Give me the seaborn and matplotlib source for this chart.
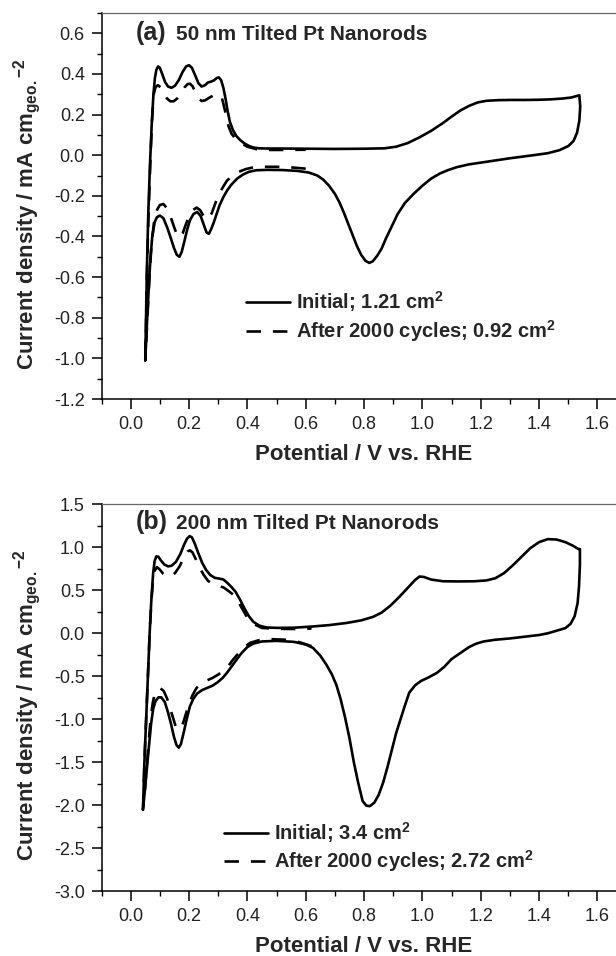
import numpy as np
import pandas as pd
import matplotlib
matplotlib.use("Agg")
import matplotlib.pyplot as plt
from matplotlib.lines import Line2D
from matplotlib.ticker import MultipleLocator, FormatStrFormatter
import seaborn as sns

# ---------------- data ----------------
# Panel (a): 50 nm tilted Pt nanorods, initial CV (closed loop)
a_init_v = [0.050, 0.055, 0.060, 0.066, 0.072, 0.078, 0.083, 0.088, 0.094, 0.100, 0.108, 0.118,
            0.128, 0.140, 0.152, 0.165, 0.178, 0.190, 0.200, 0.210, 0.222, 0.232, 0.243, 0.255,
            0.265, 0.275, 0.285, 0.295, 0.302, 0.310, 0.318, 0.325, 0.332, 0.340, 0.350, 0.362,
            0.375, 0.390, 0.405, 0.420, 0.440, 0.470, 0.520, 0.600, 0.700, 0.800, 0.870, 0.910,
            0.950, 0.990, 1.030, 1.070, 1.100, 1.130, 1.160, 1.190, 1.220, 1.260, 1.300, 1.350,
            1.400, 1.440, 1.480, 1.510, 1.530, 1.538,
            1.541, 1.538, 1.530, 1.518, 1.500, 1.470, 1.430, 1.380, 1.300, 1.230, 1.160, 1.120,
            1.090, 1.060, 1.030, 1.000, 0.970, 0.940, 0.915, 0.895, 0.875, 0.860, 0.845, 0.830,
            0.818, 0.805, 0.790, 0.775, 0.760, 0.745, 0.730, 0.715, 0.700, 0.680, 0.660, 0.640,
            0.610, 0.570, 0.520, 0.470, 0.430, 0.405, 0.385, 0.365, 0.345, 0.330, 0.318, 0.305,
            0.295, 0.285, 0.277, 0.268, 0.260, 0.250, 0.240, 0.228, 0.215, 0.203, 0.193, 0.183,
            0.175, 0.167, 0.158, 0.148, 0.138, 0.125, 0.112, 0.100, 0.090, 0.082, 0.074, 0.068,
            0.062, 0.056, 0.050]
a_init_j = [-1.01, -0.60, -0.30, -0.05, 0.15, 0.30, 0.38, 0.42, 0.437, 0.430, 0.400, 0.360,
            0.338, 0.332, 0.342, 0.370, 0.410, 0.437, 0.443, 0.430, 0.390, 0.355, 0.338, 0.345,
            0.358, 0.362, 0.368, 0.380, 0.383, 0.370, 0.330, 0.280, 0.220, 0.165, 0.125, 0.095,
            0.075, 0.058, 0.046, 0.038, 0.034, 0.033, 0.033, 0.032, 0.031, 0.032, 0.034, 0.042,
            0.060, 0.088, 0.120, 0.158, 0.190, 0.220, 0.243, 0.260, 0.268, 0.271, 0.272, 0.272,
            0.273, 0.275, 0.279, 0.284, 0.292, 0.295,
            0.240, 0.170, 0.110, 0.070, 0.045, 0.025, 0.010, 0.000, -0.015, -0.030, -0.045, -0.058,
            -0.072, -0.090, -0.115, -0.150, -0.190, -0.235, -0.290, -0.350, -0.410, -0.460, -0.495, -0.522,
            -0.530, -0.520, -0.490, -0.445, -0.390, -0.335, -0.280, -0.230, -0.190, -0.150, -0.120, -0.100,
            -0.085, -0.077, -0.073, -0.072, -0.074, -0.082, -0.095, -0.115, -0.145, -0.175, -0.205, -0.245,
            -0.287, -0.330, -0.360, -0.387, -0.380, -0.340, -0.300, -0.279, -0.290, -0.320, -0.370, -0.430,
            -0.475, -0.500, -0.490, -0.455, -0.410, -0.355, -0.310, -0.297, -0.305, -0.330, -0.400, -0.500,
            -0.650, -0.820, -1.010]

# Panel (a): after 2000 cycles (hydrogen region only)
a_aged_v = [0.600, 0.550, 0.500, 0.450, 0.420, 0.395, 0.370, 0.350, 0.330, 0.315, 0.300, 0.288,
            0.278, 0.268, 0.258, 0.248, 0.238, 0.226, 0.213, 0.200, 0.188, 0.178, 0.168, 0.158,
            0.148, 0.136, 0.124, 0.112, 0.100, 0.090, 0.080, 0.072, 0.065, 0.058, 0.051,
            0.055, 0.061, 0.067, 0.073, 0.079, 0.085, 0.093, 0.102, 0.112, 0.124, 0.136, 0.148,
            0.160, 0.172, 0.184, 0.195, 0.203, 0.212, 0.222, 0.232, 0.243, 0.255, 0.268, 0.282,
            0.295, 0.305, 0.313, 0.320, 0.328, 0.336, 0.346, 0.360, 0.378, 0.400, 0.430, 0.470,
            0.530, 0.600]
a_aged_j = [-0.066, -0.060, -0.057, -0.057, -0.060, -0.068, -0.082, -0.100, -0.125, -0.160, -0.200, -0.245,
            -0.285, -0.310, -0.315, -0.295, -0.270, -0.258, -0.270, -0.300, -0.345, -0.385, -0.405, -0.390,
            -0.350, -0.300, -0.260, -0.240, -0.245, -0.270, -0.330, -0.430, -0.580, -0.780, -0.990,
            -0.620, -0.300, -0.050, 0.170, 0.300, 0.335, 0.345, 0.335, 0.310, 0.280, 0.265, 0.266,
            0.280, 0.305, 0.333, 0.350, 0.352, 0.340, 0.310, 0.280, 0.267, 0.270, 0.282, 0.293,
            0.300, 0.298, 0.280, 0.240, 0.190, 0.140, 0.105, 0.080, 0.060, 0.042, 0.030, 0.026,
            0.026, 0.027]

# Panel (b): 200 nm tilted Pt nanorods, initial CV (closed loop)
b_init_v = [0.042, 0.047, 0.053, 0.059, 0.065, 0.071, 0.077, 0.082, 0.088, 0.095, 0.103, 0.115,
            0.128, 0.140, 0.155, 0.170, 0.183, 0.193, 0.202, 0.210, 0.220, 0.232, 0.245, 0.258,
            0.272, 0.288, 0.305, 0.318, 0.330, 0.345, 0.360, 0.375, 0.390, 0.405, 0.420, 0.440,
            0.465, 0.500, 0.560, 0.620, 0.680, 0.740, 0.790, 0.830, 0.860, 0.890, 0.920, 0.950,
            0.975, 0.990, 1.005, 1.030, 1.070, 1.120, 1.180, 1.220, 1.250, 1.280, 1.310, 1.340,
            1.370, 1.400, 1.430, 1.460, 1.490, 1.515, 1.535,
            1.540, 1.540, 1.537, 1.532, 1.522, 1.508, 1.490, 1.460, 1.430, 1.400, 1.350, 1.300,
            1.250, 1.210, 1.185, 1.160, 1.130, 1.100, 1.075, 1.050, 1.020, 0.995, 0.975, 0.955,
            0.940, 0.925, 0.910, 0.895, 0.880, 0.865, 0.850, 0.835, 0.820, 0.808, 0.795, 0.780,
            0.765, 0.750, 0.735, 0.720, 0.705, 0.690, 0.670, 0.650, 0.625, 0.600, 0.560, 0.500,
            0.450, 0.420, 0.400, 0.380, 0.360, 0.345, 0.330, 0.315, 0.298, 0.280, 0.262, 0.245,
            0.228, 0.215, 0.203, 0.192, 0.182, 0.172, 0.165, 0.157, 0.148, 0.138, 0.128, 0.117,
            0.105, 0.095, 0.085, 0.077, 0.070, 0.063, 0.055, 0.048, 0.042]
b_init_j = [-2.05, -1.50, -1.00, -0.50, 0.00, 0.40, 0.70, 0.84, 0.895, 0.890, 0.850, 0.800,
            0.778, 0.785, 0.830, 0.920, 1.030, 1.100, 1.130, 1.115, 1.040, 0.930, 0.820, 0.740,
            0.680, 0.645, 0.635, 0.625, 0.590, 0.540, 0.480, 0.390, 0.290, 0.200, 0.135, 0.090,
            0.068, 0.063, 0.065, 0.078, 0.095, 0.120, 0.150, 0.190, 0.240, 0.320, 0.420, 0.530,
            0.620, 0.660, 0.655, 0.625, 0.605, 0.603, 0.605, 0.615, 0.640, 0.700, 0.790, 0.890,
            0.990, 1.060, 1.095, 1.090, 1.060, 1.020, 0.980,
            0.980, 0.800, 0.550, 0.350, 0.200, 0.110, 0.060, 0.030, 0.000, -0.020, -0.040, -0.060,
            -0.075, -0.095, -0.120, -0.160, -0.230, -0.300, -0.390, -0.460, -0.515, -0.555, -0.605, -0.690,
            -0.840, -1.000, -1.160, -1.360, -1.560, -1.740, -1.880, -1.970, -2.010, -2.005, -1.950, -1.740,
            -1.500, -1.220, -0.980, -0.770, -0.600, -0.480, -0.360, -0.260, -0.170, -0.130, -0.100, -0.088,
            -0.095, -0.120, -0.160, -0.230, -0.320, -0.390, -0.460, -0.520, -0.570, -0.610, -0.635, -0.660,
            -0.700, -0.760, -0.850, -1.000, -1.150, -1.290, -1.330, -1.300, -1.200, -1.050, -0.920, -0.800,
            -0.745, -0.745, -0.790, -0.880, -1.050, -1.300, -1.600, -1.850, -2.050]

# Panel (b): after 2000 cycles (hydrogen region only)
b_aged_v = [0.620, 0.580, 0.530, 0.480, 0.440, 0.410, 0.390, 0.370, 0.350, 0.335, 0.320, 0.300,
            0.280, 0.260, 0.240, 0.225, 0.212, 0.200, 0.190, 0.180, 0.170, 0.162, 0.154, 0.145,
            0.135, 0.125, 0.113, 0.102, 0.092, 0.083, 0.076, 0.069, 0.062, 0.055, 0.048, 0.043,
            0.047, 0.053, 0.059, 0.065, 0.071, 0.077, 0.083, 0.090, 0.100, 0.112, 0.125, 0.138,
            0.152, 0.168, 0.182, 0.195, 0.203, 0.212, 0.222, 0.235, 0.250, 0.265, 0.280, 0.300,
            0.320, 0.340, 0.355, 0.370, 0.385, 0.400, 0.420, 0.450, 0.500, 0.560, 0.620]
b_aged_j = [-0.150, -0.105, -0.075, -0.068, -0.080, -0.110, -0.160, -0.230, -0.310, -0.380, -0.430, -0.480,
            -0.520, -0.550, -0.585, -0.640, -0.720, -0.820, -0.930, -1.040, -1.110, -1.120, -1.080, -0.980,
            -0.870, -0.760, -0.670, -0.640, -0.650, -0.700, -0.800, -0.970, -1.250, -1.550, -1.850, -2.000,
            -1.500, -1.000, -0.500, 0.000, 0.380, 0.630, 0.730, 0.770, 0.740, 0.690, 0.660, 0.665,
            0.700, 0.780, 0.880, 0.950, 0.965, 0.940, 0.870, 0.770, 0.680, 0.610, 0.575, 0.555,
            0.530, 0.480, 0.440, 0.360, 0.270, 0.180, 0.110, 0.062, 0.052, 0.050, 0.055]

panel_tags = ["(a)", "(b)"]
panel_titles = ["50 nm Tilted Pt Nanorods", "200 nm Tilted Pt Nanorods"]
legend_labels_a = [r"Initial; 1.21 cm$^{\mathbf{2}}$", r"After 2000 cycles; 0.92 cm$^{\mathbf{2}}$"]
legend_labels_b = [r"Initial; 3.4 cm$^{\mathbf{2}}$", r"After 2000 cycles; 2.72 cm$^{\mathbf{2}}$"]
xlabel = "Potential / V vs. RHE"
ylabel = r"Current density / mA cm$_{\mathbf{geo.}}$$^{\mathbf{-2}}$"

# ---------------- style ----------------
sns.set_theme(style="ticks")
plt.rcParams["font.family"] = ["Liberation Sans", "DejaVu Sans"]
plt.rcParams["axes.unicode_minus"] = False
plt.rcParams["mathtext.fontset"] = "custom"
plt.rcParams["mathtext.rm"] = "Liberation Sans"
plt.rcParams["mathtext.bf"] = "Liberation Sans:bold"
plt.rcParams["mathtext.it"] = "Liberation Sans:italic"
plt.rcParams["mathtext.default"] = "bf"

LW = 1.9
DASH = (0, (5.5, 4.5))

fig = plt.figure(figsize=(6.16, 9.56), dpi=100)
ax_a = fig.add_axes([0.1648, 0.5826, 0.8524, 0.4038])
ax_b = fig.add_axes([0.1648, 0.0677, 0.8524, 0.4048])


def draw(ax, iv, ij, av, aj):
    d1 = pd.DataFrame({"V": iv, "J": ij})
    d2 = pd.DataFrame({"V": av, "J": aj})
    sns.lineplot(data=d1, x="V", y="J", sort=False, estimator=None, ax=ax,
                 color="black", lw=LW, linestyle="-")
    sns.lineplot(data=d2, x="V", y="J", sort=False, estimator=None, ax=ax,
                 color="black", lw=LW, linestyle=DASH)


draw(ax_a, a_init_v, a_init_j, a_aged_v, a_aged_j)
draw(ax_b, b_init_v, b_init_j, b_aged_v, b_aged_j)

specs = [
    (ax_a, (-1.2, 0.7), 0.2, 0.1, panel_tags[0], panel_titles[0], legend_labels_a, 0.9288, (0.2744, 0.285), 0.22),
    (ax_b, (-3.0, 1.5), 0.5, 0.25, panel_tags[1], panel_titles[1], legend_labels_b, 0.935, (0.233, 0.183), 0.15),
]

for ax, ylim, ymaj, ymin, tag, title, labs, ty, lpos, lsp in specs:
    ax.set_xlim(-0.1, 1.7)
    ax.set_ylim(*ylim)
    ax.xaxis.set_major_locator(MultipleLocator(0.2))
    ax.xaxis.set_minor_locator(MultipleLocator(0.1))
    ax.yaxis.set_major_locator(MultipleLocator(ymaj))
    ax.yaxis.set_minor_locator(MultipleLocator(ymin))
    ax.xaxis.set_major_formatter(FormatStrFormatter("%.1f"))
    ax.yaxis.set_major_formatter(FormatStrFormatter("%.1f"))
    ax.tick_params(which="major", direction="out", length=7, width=1.1, color="black",
                   labelsize=13, labelcolor="#222222", pad=5)
    ax.tick_params(which="minor", direction="out", length=3.5, width=1.0, color="black")
    ax.tick_params(axis="y", which="major", pad=5)
    for s in ["left", "bottom"]:
        ax.spines[s].set_color("black")
        ax.spines[s].set_linewidth(1.1)
    ax.spines["top"].set_color("#666666")
    ax.spines["top"].set_linewidth(0.9)
    ax.spines["right"].set_color("#666666")
    ax.spines["right"].set_linewidth(0.9)
    ax.set_xlabel(xlabel, fontsize=16, fontweight="bold", labelpad=8)
    ax.set_ylabel(ylabel, fontsize=16, fontweight="bold")
    ax.yaxis.set_label_coords(-0.112, 0.48)
    ax.text(0.066, ty, tag, transform=ax.transAxes, fontsize=18, fontweight="bold",
            va="baseline", ha="left")
    ax.text(0.142, ty, title, transform=ax.transAxes, fontsize=15, fontweight="bold",
            va="baseline", ha="left")
    handles = [Line2D([], [], color="black", lw=LW, linestyle="-"),
               Line2D([], [], color="black", lw=LW, linestyle=DASH)]
    ax.legend(handles, labs, loc="upper left", bbox_to_anchor=lpos, frameon=False,
              prop={"weight": "bold", "size": 14.5}, handlelength=2.2, handletextpad=0.3,
              labelspacing=lsp, borderpad=0, borderaxespad=0)

fig.savefig("out.png", dpi=100, facecolor="white")
